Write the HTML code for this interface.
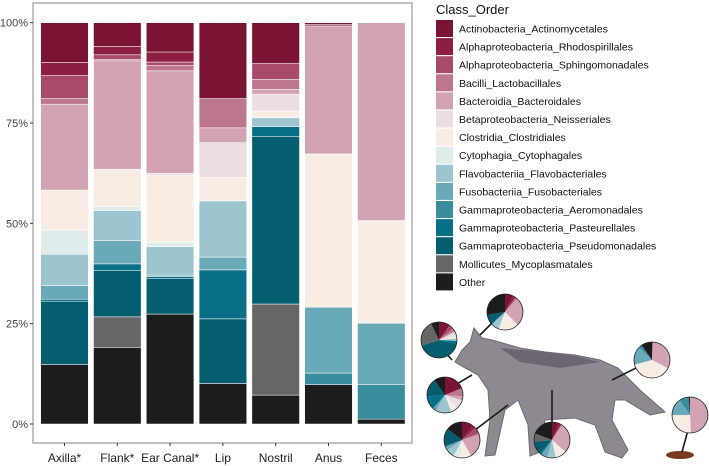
<!DOCTYPE html>
<html><head><meta charset="utf-8"><style>
body{margin:0;background:#fff;}
svg{display:block;font-family:"Liberation Sans",Arial,sans-serif;}
</style></head><body>
<svg id="c" width="709" height="466" viewBox="0 0 709 466">
<rect x="33" y="3" width="379" height="440" fill="#fff" stroke="#9a9a9a" stroke-width="1.2"/>
<g id="bars"></g>
<g id="axes"></g>
<g id="legend"></g>
<g id="wolf">
<path d="M455,362 L462,350 L470,342 L474,328 L482,338 L492,340 L520,348 L545,352 L575,355 L600,360 L618,368 L640,390 L665,412 L650,415 L625,400 L615,400 L612,420 L628,450 L622,458 L605,452 L595,425 L575,418 L545,420 L540,452 L530,456 L528,425 L518,400 L505,410 L495,455 L485,456 L490,420 L488,390 L478,375 L465,368 Z" fill="#8e8890" stroke="#6f6a72" stroke-width="1"/>
<path d="M500,348 L545,352 L575,356 L600,362 L560,368 L520,362 Z" fill="#6c6672"/>
<ellipse cx="680" cy="455" rx="14" ry="4" fill="#7a3a20"/>
<g stroke="#1a1a1a" stroke-width="1.6">
<line x1="480" y1="335" x2="495" y2="320"/><line x1="452" y1="360" x2="445" y2="352"/>
<line x1="612" y1="380" x2="640" y2="366"/><line x1="472" y1="375" x2="455" y2="385"/>
<line x1="508" y1="405" x2="475" y2="430"/><line x1="552" y1="390" x2="552" y2="425"/>
<line x1="682" y1="452" x2="688" y2="430"/>
</g>
<g id="pies"></g>
</g>
</svg>
<script>
const categories=["Axilla*","Flank*","Ear Canal*","Lip","Nostril","Anus","Feces"];
const taxa=["Actinobacteria_Actinomycetales","Alphaproteobacteria_Rhodospirillales","Alphaproteobacteria_Sphingomonadales","Bacilli_Lactobacillales","Bacteroidia_Bacteroidales","Betaproteobacteria_Neisseriales","Clostridia_Clostridiales","Cytophagia_Cytophagales","Flavobacteriia_Flavobacteriales","Fusobacteriia_Fusobacteriales","Gammaproteobacteria_Aeromonadales","Gammaproteobacteria_Pasteurellales","Gammaproteobacteria_Pseudomonadales","Mollicutes_Mycoplasmatales","Other"];
const colors=["#7a1432","#8c1e42","#a84b68","#bd778c","#d2a3b2","#ecdde2","#f8ede4","#dfeceb","#9cc5cf","#6aa9b7","#3a8c9f","#096f86","#045e70","#666666","#1c1c1c"];
// values per taxon (same order as taxa), per category
const actino=[9.9,5.9,7.3,18.9,10.1,0.4,0];
const rhodo=[3.2,2.1,2.5,0,0,0.4,0];
const sphingo=[5.8,1.1,0.8,0,4.0,0,0];
const bacilli=[1.4,0.4,1.4,7.3,2.5,0,0];
const bacteroid=[21.4,27.0,25.5,3.7,1.2,31.9,49.3];
const neiss=[0,0,0.6,8.6,4.2,0,0];
const clost=[10.0,9.3,16.6,5.9,1.7,38.2,25.6];
const cyto=[6.0,1.0,1.1,0,0,0,0];
const flavo=[7.8,7.5,7.1,14.0,2.2,0,0];
const fuso=[3.4,5.8,0.4,3.2,0,16.4,15.3];
const aero=[0,0,0,0,0,2.9,8.6];
const pasteur=[0.5,1.7,0.5,12.2,2.5,0,0];
const pseudo=[15.8,11.5,8.8,16.1,41.7,0,0];
const molli=[0,7.6,0,0,22.7,0,0];
const other=[14.8,19.1,27.4,10.1,7.2,9.8,1.2];
const series=[actino,rhodo,sphingo,bacilli,bacteroid,neiss,clost,cyto,flavo,fuso,aero,pasteur,pseudo,molli,other];
const yTicks=[0,25,50,75,100];
const yTickLabels=["0%","25%","50%","75%","100%"];
const pieCenters={"Axilla*":[462,440],"Flank*":[552,440],"Ear Canal*":[505,312],"Lip":[445,395],"Nostril":[439,340],"Anus":[652,360],"Feces":[690,415]};

const NS="http://www.w3.org/2000/svg";
function mk(t,a,p){const e=document.createElementNS(NS,t);for(const k in a)e.setAttribute(k,a[k]);p.appendChild(e);return e;}
const y=v=>424-v*4.013;
const xc=i=>64.5+i*52.8;
const bw=47.6;
const bars=document.getElementById('bars');
categories.forEach((c,i)=>{
  const tot=series.reduce((s,a)=>s+a[i],0);
  let acc=0;
  for(let k=series.length-1;k>=0;k--){
    const v=series[k][i]/tot*100; if(v<=0)continue;
    const r=mk('rect',{x:xc(i)-bw/2,y:y(acc+v),width:bw,height:v*4.013,fill:colors[k],stroke:'#fff','stroke-width':0.5},bars);
    
    
    acc+=v;
  }
});
const ax=document.getElementById('axes');
yTicks.forEach((t,i)=>{
  mk('line',{x1:30,x2:33,y1:y(t),y2:y(t),stroke:'#333'},ax);
  const tx=mk('text',{x:28,y:y(t)+4,'text-anchor':'end','font-size':11,fill:'#444'},ax);
  tx.textContent=yTickLabels[i];
  
  
});
categories.forEach((c,i)=>{
  mk('line',{x1:xc(i),x2:xc(i),y1:443,y2:446,stroke:'#333'},ax);
  const tx=mk('text',{x:xc(i),y:462,'text-anchor':'middle','font-size':12,fill:'#222'},ax);
  tx.textContent=c;
  
  
});
const lg=document.getElementById('legend');
const tt=mk('text',{x:436,y:14,'font-size':13,fill:'#111'},lg);tt.textContent="Class_Order";


taxa.forEach((t,k)=>{
  const g=mk('g',{},lg);
  
  
  mk('rect',{x:436,y:20+k*18.1,width:17,height:17,fill:colors[k]},g);
  const tx=mk('text',{x:459,y:32.5+k*18.1,'font-size':10.5,fill:'#111'},g);tx.textContent=t;
});
const pies=document.getElementById('pies');
categories.forEach((c,i)=>{
  const [cx,cy]=pieCenters[c];const r=18;
  const tot=series.reduce((s,a)=>s+a[i],0);
  let a0=-Math.PI/2;
  const g=mk('g',{},pies);
  
  
  series.forEach((s,k)=>{
    const v=s[i]/tot; if(v<=0)return;
    const a1=a0+v*2*Math.PI;
    const large=v>0.5?1:0;
    mk('path',{d:`M${cx},${cy} L${cx+r*Math.cos(a0)},${cy+r*Math.sin(a0)} A${r},${r} 0 ${large} 1 ${cx+r*Math.cos(a1)},${cy+r*Math.sin(a1)} Z`,fill:colors[k]},g);
    a0=a1;
  });
  mk('circle',{cx:cx,cy:cy,r:r,fill:'none',stroke:'#222','stroke-width':0.8},g);
});
</script>
</body></html>
